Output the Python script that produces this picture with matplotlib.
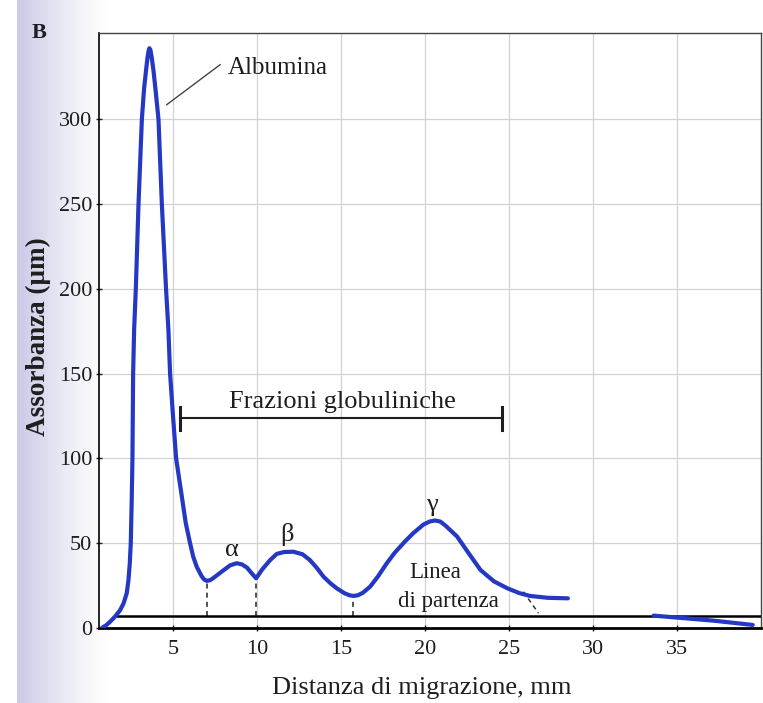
import numpy as np
import matplotlib
matplotlib.use('Agg')
import matplotlib.pyplot as plt

# curva densitometrica
dist = [0.75, 1.0, 1.25, 1.55, 1.85, 2.05, 2.24, 2.34, 2.42, 2.48, 2.54, 2.58,
        2.62, 2.68, 2.78, 2.94, 3.14, 3.27, 3.39, 3.47, 3.54, 3.59, 3.65, 3.72,
        3.83, 3.97, 4.13, 4.33, 4.58, 4.72, 4.82, 4.98, 5.18, 5.52, 5.75, 6.01,
        6.2, 6.41, 6.7, 6.85, 7.0, 7.2, 7.4, 7.9, 8.4, 8.79, 9.1, 9.4, 9.7, 9.94,
        10.3, 10.77, 11.17, 11.6, 12.16, 12.7, 13.15, 13.55, 13.95, 14.35, 14.74,
        15.2, 15.5, 15.73, 16.0, 16.3, 16.73, 17.2, 17.72, 18.2, 18.8, 19.3, 19.9,
        20.3, 20.6, 20.9, 21.2, 21.9, 22.6, 23.3, 24.1, 24.9, 25.6, 26.25, 27.3,
        28.5]
assorb = [0, 1.5, 3.7, 6.8, 10.6, 14.5, 20.5, 28, 38, 50, 77.5, 100,
          150, 176, 200, 250, 300, 318, 329, 336, 340.5, 342, 341, 337,
          329, 316, 300, 250, 200, 176, 150, 127, 100, 77.5, 62, 50,
          42, 36, 30.5, 28.6, 27.8, 28.2, 29.5, 33.3, 37, 38.2, 37.5, 35.6, 32, 29.3,
          34.5, 40, 43.7, 44.8, 45, 43.5, 40, 35.5, 30.3, 26.5, 23.4,
          20.5, 19.3, 18.9, 19.3, 20.8, 24.4, 30.5, 38.2, 44.5, 51, 56, 61,
          62.9, 63.4, 62.8, 60.5, 54, 44, 34.2, 27.5, 23.4, 20.6, 18.9, 17.8,
          17.5]

# tratto finale oltre la linea di partenza
dist_coda = [33.6, 37.2, 39.5]
assorb_coda = [7.3, 4.3, 1.8]

# minimi tra le frazioni (linee tratteggiate)
minimi_x = [7.0, 9.94, 15.73]
minimi_y = [27.8, 29.3, 18.9]

linea_partenza = 7.3
x_ticks = [5, 10, 15, 20, 25, 30, 35]
y_ticks = [0, 50, 100, 150, 200, 250, 300]

blu = '#2438c4'
testo = '#1e1e1e'
plt.rcParams['font.family'] = ['Liberation Serif', 'DejaVu Serif']

fig = plt.figure(figsize=(7.63, 7.03), dpi=100)

# sfondo: ombra della rilegatura a sinistra
bg = fig.add_axes([0, 0, 1, 1], zorder=-10)
cols = np.arange(763)
fade = np.clip((110 - cols) / 90.0, 0, 1) ** 1.3
fade[cols < 17] = 0
img = np.ones((1, 763, 3))
img[0, :, 0] = 1 - fade * 0.20
img[0, :, 1] = 1 - fade * 0.20
img[0, :, 2] = 1 - fade * 0.09
bg.imshow(img, aspect='auto', extent=[0, 1, 0, 1])
bg.axis('off')

ax = fig.add_axes([0.13, 0.1067, 0.8675, 0.8464])
ax.set_xlim(0.6, 40.0)
ax.set_ylim(0, 351)

ax.plot(dist, assorb, color=blu, lw=3, solid_capstyle='round', solid_joinstyle='round', zorder=5)
ax.plot(dist_coda, assorb_coda, color=blu, lw=3, solid_capstyle='round', zorder=5)

# linea di partenza
ax.plot([1.65, 40.0], [linea_partenza, linea_partenza], color='black', lw=1.8, zorder=4)
for mx, my in zip(minimi_x, minimi_y):
    ax.plot([mx, mx], [linea_partenza, my - 1], color='#333333', lw=1.2, ls=(0, (3, 2.5)), zorder=3)
ax.plot([25.85, 26.75], [21.4, 8.7], color='#333333', lw=1.1, ls=(0, (3, 2.5)), zorder=3)

ax.set_xticks(x_ticks)
ax.set_yticks(y_ticks)
ax.grid(True, color='#d2d2d2', lw=0.9)
ax.set_axisbelow(True)
ax.tick_params(labelsize=16, length=4, width=1, direction='inout', colors=testo)
ax.tick_params(axis='y', pad=3)
ax.tick_params(axis='x', pad=7)

for s in ['top', 'right']:
    ax.spines[s].set_color('#444444')
    ax.spines[s].set_linewidth(1.0)
ax.spines['left'].set_linewidth(1.2)
ax.spines['bottom'].set_linewidth(2.0)

ax.set_xlabel('Distanza di migrazione, mm', fontsize=19, color=testo, va='center')
ax.xaxis.set_label_coords(0.488, -0.101)
ax.set_ylabel('Assorbanza (μm)', fontsize=19.5, fontweight='bold', color=testo, va='center')
ax.yaxis.set_label_coords(-0.092, 0.489)

# annotazioni
ax.plot([4.62, 7.8], [308.7, 332.3], color='#444444', lw=1.0)
ax.text(8.27, 330.6, 'Albumina', fontsize=18, va='center', ha='left', color=testo)

ax.plot([5.42, 24.56], [124, 124], color=testo, lw=1.5)
ax.plot([5.42, 5.42], [116.8, 130.6], color=testo, lw=2.2)
ax.plot([24.56, 24.56], [116.8, 130.6], color=testo, lw=2.2)
ax.text(15.06, 133.4, 'Frazioni globuliniche', fontsize=19, ha='center', va='center', color=testo)

ax.text(8.49, 46, 'α', fontsize=19, ha='center', va='center', color=testo)
ax.text(11.76, 55, 'β', fontsize=19, ha='center', va='center', color=testo)
ax.text(20.4, 72.6, 'γ', fontsize=19, ha='center', va='center', color=testo)

ax.text(20.6, 33, 'Linea', fontsize=16.5, ha='center', va='center', color=testo)
ax.text(21.4, 15.5, 'di partenza', fontsize=16.5, ha='center', va='center', color=testo)

fig.text(0.051, 0.953, 'B', fontsize=16, fontweight='bold', ha='center', va='center', color=testo)

fig.savefig('out.png', dpi=100)
